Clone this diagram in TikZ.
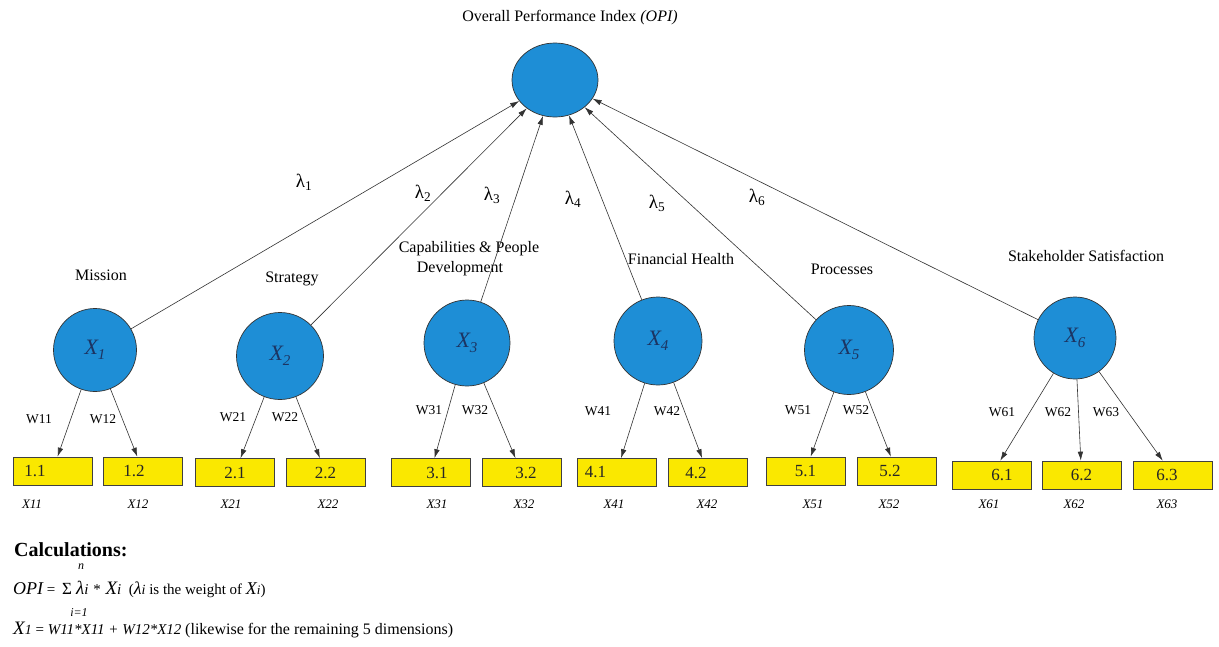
\documentclass[tikz,border=0pt]{standalone}
\usepackage{fontspec}
\setmainfont{Liberation Serif}
\usetikzlibrary{arrows.meta,shapes.geometric}

\definecolor{nodeblue}{RGB}{30,142,214}
\definecolor{boxyellow}{RGB}{250,232,0}
\definecolor{labelnavy}{RGB}{28,52,98}

% font size in pt with matching baseline skip
\newcommand{\fsz}[1]{\fontsize{#1}{#1}\selectfont}
% text moved sideways inside a fixed-size box (#1 = twice the shift)
\newcommand{\shifttext}[2]{\hbox to 0pt{\hss\kern#1\relax #2\hss}}
% italic variable with a lowered index
\newcommand{\varidx}[2]{#1\raisebox{-5pt}{\fsz{15}#2}}

\tikzset{
  latent/.style={circle, draw=black!80, line width=0.7pt, fill=nodeblue,
                 inner sep=0pt, font=\fsz{22}\itshape, text=labelnavy},
  opinode/.style={ellipse, draw=black!80, line width=0.7pt, fill=nodeblue,
                  minimum width=86pt, minimum height=74pt, inner sep=0pt},
  indic/.style={rectangle, draw=black!75, line width=0.7pt, fill=boxyellow,
                minimum width=79pt, minimum height=28pt, inner sep=0pt,
                font=\fsz{17}, text=black!85},
  loadarrow/.style={draw=black!80, line width=0.6pt,
                    -{Latex[length=9pt,width=5.5pt]}},
  catlabel/.style={font=\fsz{16}, align=center},
  wlabel/.style={font=\fsz{13.5}},
  itemlabel/.style={font=\fsz{13}\itshape},
  lamlabel/.style={font=\fsz{19}},
  calctext/.style={anchor=west, inner sep=0pt, font=\fsz{15}}
}

\begin{document}
\begin{tikzpicture}[x=1pt, y=-1pt]
\useasboundingbox[fill=white] (0,0) rectangle (1219,646);

% overall index
\node[opinode] (opi) at (555,80) {};
\node[catlabel] (opititle) at (570,18) {Overall Performance Index \textit{(OPI)}};

% dimensions
\node[latent, minimum size=83pt] (X1) at (95,350)  {\varidx{X}{1}};
\node[latent, minimum size=87pt] (X2) at (280,356) {\varidx{X}{2}};
\node[latent, minimum size=86pt] (X3) at (467,343) {\varidx{X}{3}};
\node[latent, minimum size=88pt] (X4) at (658,341) {\varidx{X}{4}};
\node[latent, minimum size=89pt] (X5) at (849,350) {\varidx{X}{5}};
\node[latent, minimum size=82pt] (X6) at (1075,338) {\varidx{X}{6}};

% dimension names
\node[catlabel] (nm1) at (101,275) {Mission};
\node[catlabel] (nm2) at (292,279) {Strategy};
\node[catlabel] (nm3) at (469,259) {Capabilities \& People\\[4pt]\hspace*{-18pt}Development};
\node[catlabel] (nm4) at (681,259) {Financial Health};
\node[catlabel] (nm5) at (842,269) {Processes};
\node[catlabel] (nm6) at (1086,256) {Stakeholder Satisfaction};

% indicators
\node[indic] (b11) at (52.5,471)  {\shifttext{-35pt}{1.1}};
\node[indic] (b12) at (143,471)   {\shifttext{-18pt}{1.2}};
\node[indic] (b21) at (235,472.5) {2.1};
\node[indic] (b22) at (325.5,472.5) {2.2};
\node[indic] (b31) at (430.5,472.5) {\shifttext{13pt}{3.1}};
\node[indic] (b32) at (521.5,472.5) {\shifttext{9pt}{3.2}};
\node[indic] (b41) at (616.5,472.5) {\shifttext{-42pt}{4.1}};
\node[indic] (b42) at (707.5,472.5) {\shifttext{-23pt}{4.2}};
\node[indic] (b51) at (805.5,471) {5.1};
\node[indic] (b52) at (896.5,471) {\shifttext{-13pt}{5.2}};
\node[indic] (b61) at (991.5,475) {\shifttext{21pt}{6.1}};
\node[indic] (b62) at (1081.5,475) {6.2};
\node[indic] (b63) at (1173,475) {\shifttext{-12pt}{6.3}};

% indicator variable names
\node[itemlabel] (x11) at (32,504)  {X11};
\node[itemlabel] (x12) at (138,504) {X12};
\node[itemlabel] (x21) at (231,504) {X21};
\node[itemlabel] (x22) at (328,504) {X22};
\node[itemlabel] (x31) at (437,504) {X31};
\node[itemlabel] (x32) at (524,504) {X32};
\node[itemlabel] (x41) at (614,504) {X41};
\node[itemlabel] (x42) at (707,504) {X42};
\node[itemlabel] (x51) at (813,504) {X51};
\node[itemlabel] (x52) at (889,504) {X52};
\node[itemlabel] (x61) at (989,504) {X61};
\node[itemlabel] (x62) at (1074,504) {X62};
\node[itemlabel] (x63) at (1167,504) {X63};

% dimension to index
\foreach \d in {1,...,6} \draw[loadarrow] (X\d) -- (opi);

% dimension to indicators
\draw[loadarrow] (X1) -- (b11);
\draw[loadarrow] (X1) -- (b12);
\draw[loadarrow] (X2) -- (b21);
\draw[loadarrow] (X2) -- (b22);
\draw[loadarrow] (X3) -- (b31);
\draw[loadarrow] (X3) -- (b32);
\draw[loadarrow] (X4) -- (b41);
\draw[loadarrow] (X4) -- (b42);
\draw[loadarrow] (X5) -- (b51);
\draw[loadarrow] (X5) -- (b52);
\draw[loadarrow] (X6) -- (b61);
\draw[loadarrow] (X6) -- (b62);
\draw[loadarrow] (X6) -- (b63);

% lambda weights
\node[lamlabel] (l1) at (304,182) {λ\textsubscript{1}};
\node[lamlabel] (l2) at (423,193) {λ\textsubscript{2}};
\node[lamlabel] (l3) at (492,195) {λ\textsubscript{3}};
\node[lamlabel] (l4) at (573,199) {λ\textsubscript{4}};
\node[lamlabel] (l5) at (657,203) {λ\textsubscript{5}};
\node[lamlabel] (l6) at (757,197) {λ\textsubscript{6}};

% indicator weights
\node[wlabel] (w11) at (39,419)  {W11};
\node[wlabel] (w12) at (103,419) {W12};
\node[wlabel] (w21) at (233,417) {W21};
\node[wlabel] (w22) at (285,417) {W22};
\node[wlabel] (w31) at (429,410) {W31};
\node[wlabel] (w32) at (475,410) {W32};
\node[wlabel] (w41) at (598,411) {W41};
\node[wlabel] (w42) at (667,411) {W42};
\node[wlabel] (w51) at (798,410) {W51};
\node[wlabel] (w52) at (856,410) {W52};
\node[wlabel] (w61) at (1002,412) {W61};
\node[wlabel] (w62) at (1058,412) {W62};
\node[wlabel] (w63) at (1106,412) {W63};

% calculations
\node[calctext, font=\fsz{20}\bfseries] (calc) at (14,550) {Calculations:};
\node[calctext] (opieq) at (13,589) {{\fsz{18}\itshape OPI} = };
\node[inner sep=0pt, font=\fsz{17}] (sig) at (67,589) {Σ};
\node[inner sep=0pt, font=\fsz{12}\itshape] (sigtop) at (81,567) {n};
\node[inner sep=0pt, font=\fsz{12}\itshape] (sigbot) at (79,613) {i=1};
\node[calctext] (opisum) at (76,589)
  {{\fsz{19}\itshape λ{\fsz{15}i} {\fsz{15}\upshape *} X{\fsz{15}i}}\ \ (\textit{\fsz{18}λ{\fsz{14}i}} is the weight of {\itshape\fsz{18}X{\fsz{13}i}})};
\node[calctext] (x1eq) at (13,630)
  {{\itshape\fsz{19}X{\fsz{14}1}} = {\itshape\fsz{15}W11*X11 + W12*X12} {\fsz{16}(likewise for the remaining 5 dimensions)}};
\end{tikzpicture}
\end{document}
